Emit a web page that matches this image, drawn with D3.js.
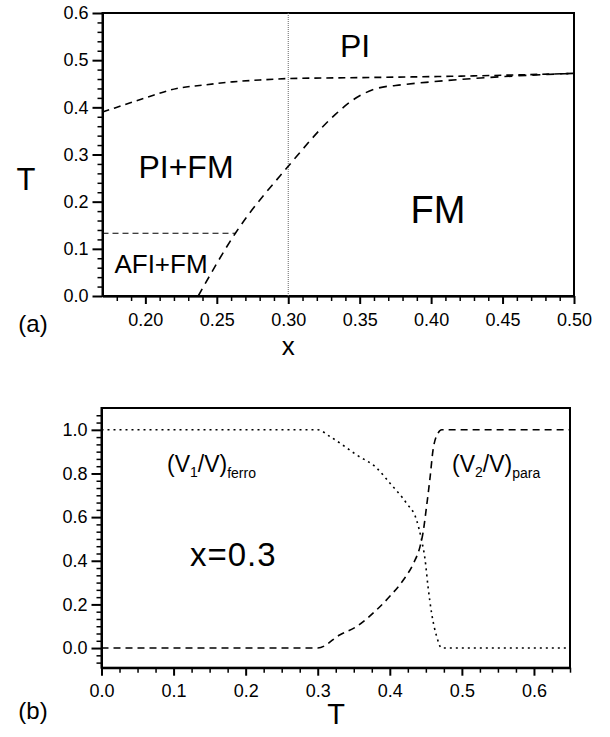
<!DOCTYPE html>
<html>
<head>
<meta charset="utf-8">
<script src="https://cdn.jsdelivr.net/npm/d3@7"></script>
</head>
<body style="margin:0">
<svg id="chart" width="610" height="737"></svg>
<script>
// ---------- Panel (a) data: phase diagram T vs x ----------
const aXTicks = [0.20, 0.25, 0.30, 0.35, 0.40, 0.45, 0.50];
const aYTicks = [0.0, 0.1, 0.2, 0.3, 0.4, 0.5, 0.6];
const aXMinor = [0.18, 0.19, 0.21, 0.22, 0.23, 0.24, 0.26, 0.27, 0.28, 0.29, 0.31, 0.32, 0.33, 0.34,
                 0.36, 0.37, 0.38, 0.39, 0.41, 0.42, 0.43, 0.44, 0.46, 0.47, 0.48, 0.49];
const aYMinor = [0.02, 0.04, 0.06, 0.08, 0.12, 0.14, 0.16, 0.18, 0.22, 0.24, 0.26, 0.28,
                 0.32, 0.34, 0.36, 0.38, 0.42, 0.44, 0.46, 0.48, 0.52, 0.54, 0.56, 0.58];
const boundaryPI = [
  [0.170, 0.390], [0.185, 0.405], [0.200, 0.420], [0.222, 0.440],
  [0.240, 0.447], [0.261, 0.454], [0.280, 0.458], [0.300, 0.461],
  [0.350, 0.463], [0.418, 0.466], [0.450, 0.468], [0.500, 0.472]
];
const boundaryFM = [
  [0.237, 0.000], [0.263, 0.133], [0.300, 0.275], [0.333, 0.385],
  [0.345, 0.415], [0.362, 0.440], [0.380, 0.448], [0.400, 0.454],
  [0.450, 0.465], [0.500, 0.472]
];
const boundaryAFI = [[0.170, 0.133], [0.263, 0.133]];
const xMarker = 0.30;

// ---------- Panel (b) data: volume fractions vs T at x=0.3 ----------
const bXTicks = [0.0, 0.1, 0.2, 0.3, 0.4, 0.5, 0.6];
const bYTicks = [0.0, 0.2, 0.4, 0.6, 0.8, 1.0];
const bXMinor = [0.025, 0.05, 0.075, 0.125, 0.15, 0.175, 0.225, 0.25, 0.275, 0.325, 0.35, 0.375,
                 0.425, 0.45, 0.475, 0.525, 0.55, 0.575, 0.625, 0.65];
const bYMinor = [-0.0667, -0.0333, 0.0333, 0.0667, 0.1, 0.1333, 0.1667, 0.2333, 0.2667, 0.3, 0.3333,
                 0.3667, 0.4333, 0.4667, 0.5, 0.5333, 0.5667, 0.6333, 0.6667, 0.7, 0.7333, 0.7667,
                 0.8333, 0.8667, 0.9, 0.9333, 0.9667, 1.0333, 1.0667];
const ferro = [
  [0.000, 1.000], [0.300, 1.000], [0.317, 0.969], [0.354, 0.885],
  [0.382, 0.824], [0.400, 0.756], [0.423, 0.664], [0.437, 0.588],
  [0.444, 0.496], [0.449, 0.404], [0.453, 0.282], [0.458, 0.160],
  [0.465, 0.053], [0.472, 0.000], [0.650, 0.000]
];
const para = [
  [0.000, 0.000], [0.300, 0.000], [0.331, 0.061], [0.354, 0.099],
  [0.382, 0.176], [0.400, 0.237], [0.419, 0.313], [0.433, 0.389],
  [0.442, 0.466], [0.446, 0.527], [0.451, 0.649], [0.456, 0.786],
  [0.460, 0.908], [0.467, 0.985], [0.472, 1.000], [0.650, 1.000]
];

const svg = d3.select("#chart");
const FONT = "Liberation Sans, Arial, Helvetica, sans-serif";

function addAxis(axis, transform, width) {
  const g = svg.append("g").attr("transform", transform).call(axis);
  g.attr("stroke-width", width).attr("font-size", 18).attr("font-family", FONT);
  return g;
}

function panel(x, y, o) {
  const yb = y.range()[0], yt = y.range()[1];
  const xl = x.range()[0], xr = x.range()[1];
  svg.append("rect").attr("x", xl).attr("y", yt)
    .attr("width", xr - xl).attr("height", yb - yt)
    .attr("fill", "none").attr("stroke", "#000").attr("stroke-width", 2);
  addAxis(d3.axisBottom(x).tickValues(o.xMinor).tickSize(5).tickSizeOuter(0).tickFormat(""),
    `translate(0,${yb})`, 1.5);
  addAxis(d3.axisBottom(x).tickValues(o.xMajor).tickSize(8).tickSizeOuter(0).tickPadding(9).tickFormat(o.xFmt),
    `translate(0,${yb})`, 2);
  addAxis(d3.axisLeft(y).tickValues(o.yMinor).tickSize(5).tickSizeOuter(0).tickFormat(""),
    `translate(${xl},0)`, 1.5);
  addAxis(d3.axisLeft(y).tickValues(o.yMajor).tickSize(10).tickSizeOuter(0).tickPadding(4).tickFormat(o.yFmt),
    `translate(${xl},0)`, 2);
}

function label(x, y, size, txt, anchor) {
  return svg.append("text").attr("x", x).attr("y", y)
    .attr("text-anchor", anchor || "middle").attr("font-size", size)
    .attr("font-family", FONT).attr("fill", "#000").text(txt);
}

// ================= Scales =================
const xA = d3.scaleLinear().domain([0.17, 0.50]).range([102.5, 574]);
const yA = d3.scaleLinear().domain([0, 0.6]).range([296, 13]);
const xB = d3.scaleLinear().domain([0, 0.65]).range([101.5, 570]);
const yB = d3.scaleLinear().domain([-0.09, 1.1]).range([667.7, 408]);

// frames and axes first
panel(xA, yA, {
  xMajor: aXTicks, xMinor: aXMinor, xFmt: d3.format(".2f"),
  yMajor: aYTicks, yMinor: aYMinor, yFmt: d3.format(".1f")
});
panel(xB, yB, {
  xMajor: bXTicks, xMinor: bXMinor, xFmt: d3.format(".1f"),
  yMajor: bYTicks, yMinor: bYMinor, yFmt: d3.format(".1f")
});

// ================= Panel (a) marks =================
const lineA = d3.line().x(d => xA(d[0])).y(d => yA(d[1]));

svg.append("line")
  .attr("x1", xA(xMarker)).attr("x2", xA(xMarker))
  .attr("y1", yA(0)).attr("y2", yA(0.6))
  .attr("stroke", "#666").attr("stroke-width", 1).attr("stroke-dasharray", "1,1");

svg.append("path").attr("d", lineA.curve(d3.curveMonotoneX)(boundaryPI))
  .attr("fill", "none").attr("stroke", "#000").attr("stroke-width", 1.6)
  .attr("stroke-dasharray", "7,5");
svg.append("path").attr("d", lineA.curve(d3.curveMonotoneX)(boundaryFM))
  .attr("fill", "none").attr("stroke", "#000").attr("stroke-width", 1.6)
  .attr("stroke-dasharray", "8,6");
svg.append("path").attr("d", lineA.curve(d3.curveLinear)(boundaryAFI))
  .attr("fill", "none").attr("stroke", "#000").attr("stroke-width", 1.1)
  .attr("stroke-dasharray", "6,4");

label(355, 57, 32, "PI");
label(186, 178, 32, "PI+FM");
label(438, 223, 38, "FM");
label(161, 273, 26, "AFI+FM");
label(26, 190, 31, "T");
label(xA(0.30), 355, 26, "x");
label(33, 332, 24, "(a)");

// ================= Panel (b) marks =================
const lineB = d3.line().x(d => xB(d[0])).y(d => yB(d[1])).curve(d3.curveMonotoneX);

svg.append("path").attr("d", lineB(ferro))
  .attr("fill", "none").attr("stroke", "#000").attr("stroke-width", 1.6)
  .attr("stroke-dasharray", "2,4");
svg.append("path").attr("d", lineB(para))
  .attr("fill", "none").attr("stroke", "#000").attr("stroke-width", 1.6)
  .attr("stroke-dasharray", "7,5");

function volLabel(x, y, sub, tail) {
  const t = svg.append("text").attr("x", x).attr("y", y).attr("font-size", 23)
    .attr("font-family", FONT).attr("fill", "#000");
  t.append("tspan").text("(V");
  t.append("tspan").attr("font-size", 14).attr("dy", 5).text(sub);
  t.append("tspan").attr("dy", -5).text("/V)");
  t.append("tspan").attr("font-size", 14).attr("dy", 6).text(tail);
}
volLabel(167, 472, "1", "ferro");
volLabel(452, 472, "2", "para");

label(190, 566, 33, "x=0.3", "start").attr("letter-spacing", 1);
label(336, 724, 29, "T");
label(33, 719, 24, "(b)");
</script>
</body>
</html>
